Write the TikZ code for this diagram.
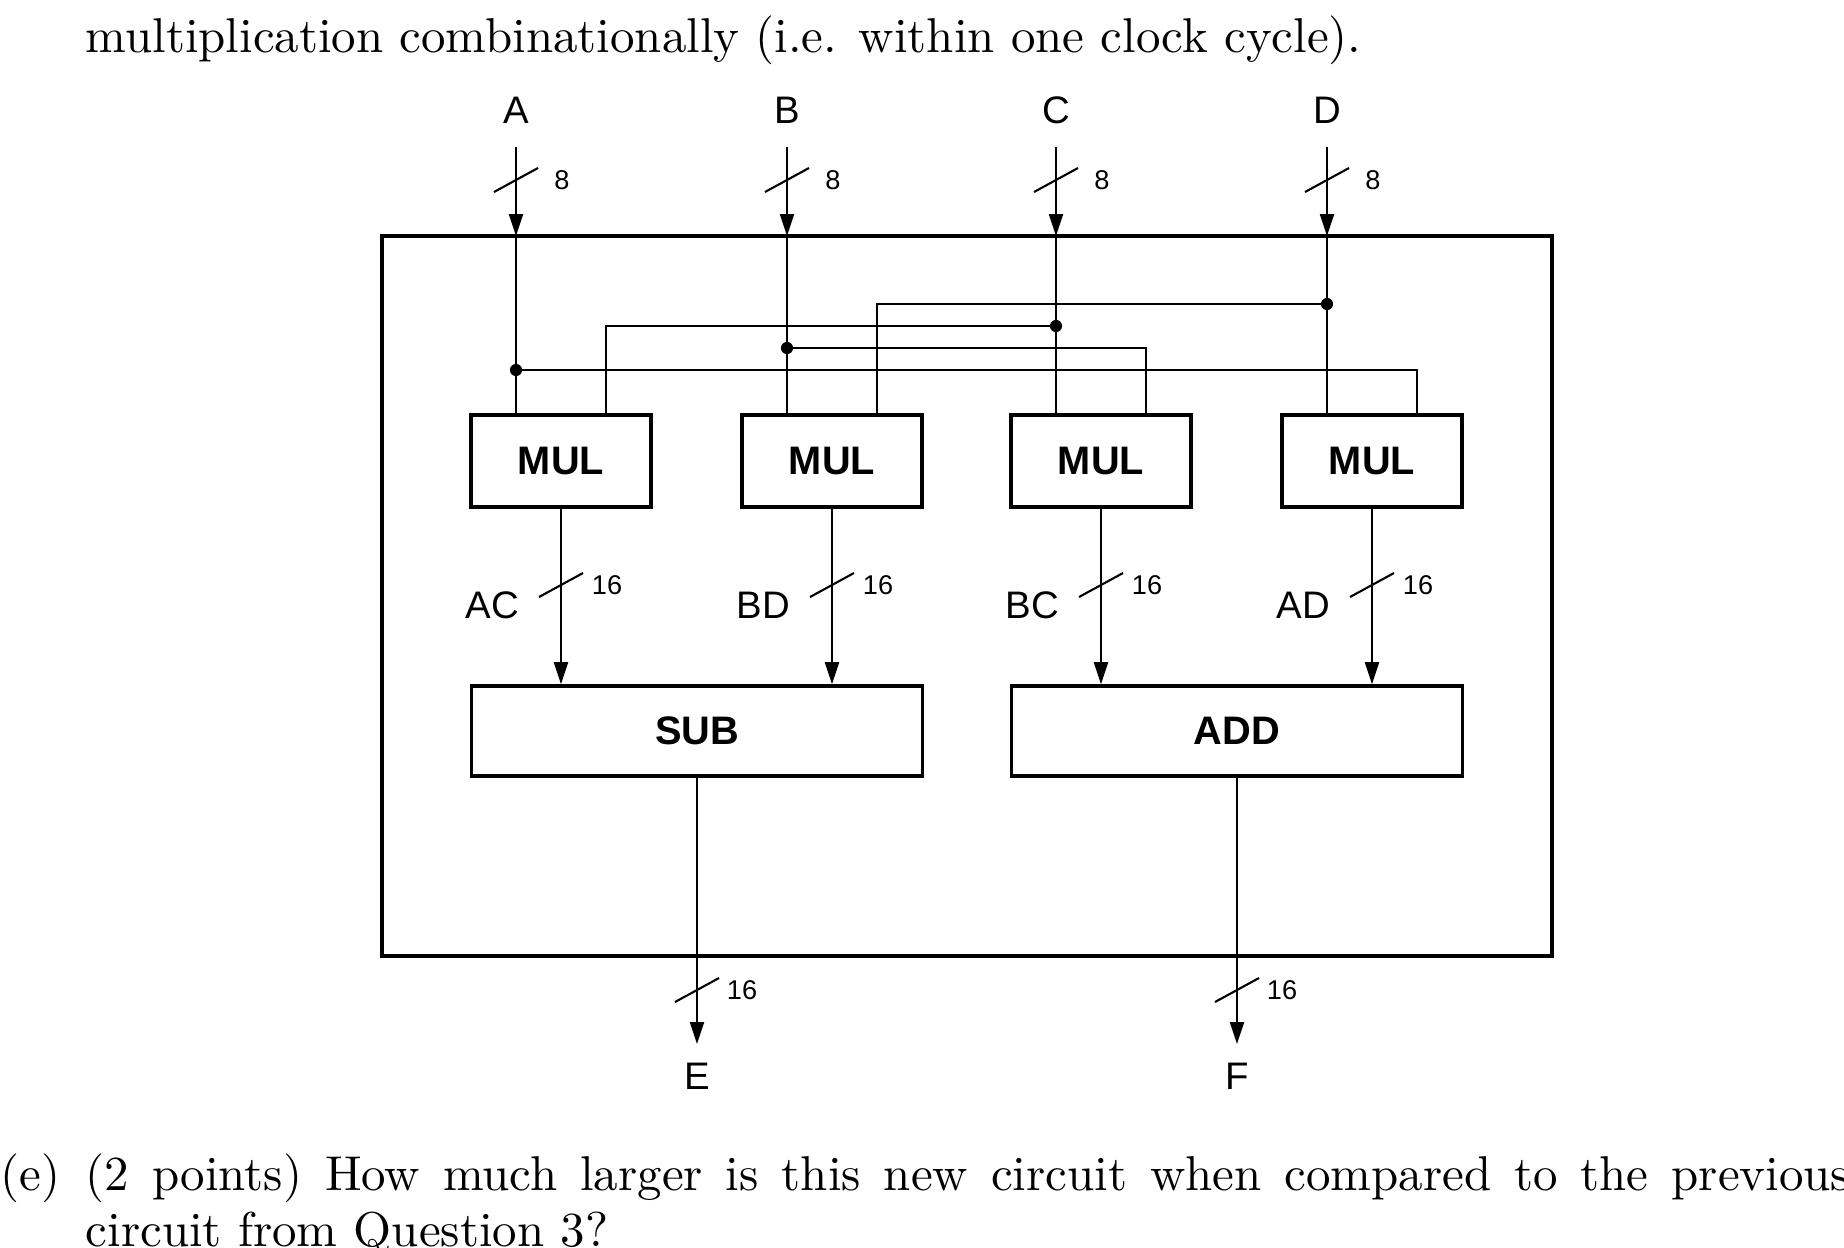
\documentclass[tikz,border=0pt]{standalone}
\usepackage{fontspec}
\newfontfamily\diagfont{Liberation Sans}
\usetikzlibrary{calc,arrows.meta}

\tikzset{
  wire/.style={line width=0.45pt},
  bus/.style={line width=0.45pt,-{Triangle[length=4.7pt,width=3pt]}},
  blk/.style={draw,line width=0.8pt,inner sep=0pt,
    font=\diagfont\bfseries\fontsize{8.5}{10}\selectfont},
  sig/.style={inner sep=0pt,font=\diagfont\fontsize{8.2}{10}\selectfont},
  wid/.style={inner sep=0pt,font=\diagfont\fontsize{5.8}{7}\selectfont},
  body/.style={inner sep=0pt,anchor=base west,font=\fontsize{10.45}{12.5}\selectfont}
}

\begin{document}
\begin{tikzpicture}[x=0.2137pt,y=-0.2137pt]
\useasboundingbox (0,0) rectangle (1844,1247);
% surrounding text
\node[body] (txt0) at (85,52) {multiplication combinationally (i.e. within one clock cycle).};
\node[body] (txt1) at (0,1190) {(e)};
\node[body] (txt2) at (85,1190) {\hbox to 377pt{(2 points) How much larger is this new circuit when compared to the previous}};
\node[body] (txt3) at (85,1246) {circuit from Question 3?};

% outer box
\draw[line width=0.8pt] (382,236) rectangle (1552,956);

% inputs and multipliers
\foreach \n/\x [count=\i] in {A/516,B/787,C/1056,D/1327}{
  \node[blk,minimum width=38.5pt,minimum height=19.7pt] (mul\i) at (\x+45,461) {MUL};
  \node[sig] (in\n) at (\x,110) {\n};
  \coordinate (s\n) at (\x,147);
  \coordinate (t\n) at (\x,236);
  \draw[bus] (s\n) -- (t\n);
  \draw[wire] (t\n) -- (t\n |- mul\i.north);
  \draw[wire] (\x-22,192) -- (\x+22,168);
  \node[wid] (w\n) at (\x+46,180) {8};
}

% cross wiring
\coordinate (jA) at (516,370);
\coordinate (jB) at (787,348);
\coordinate (jC) at (1056,326);
\coordinate (jD) at (1327,304);
\draw[wire] (jA) -| ([xshift=9.6pt]mul4.north);
\draw[wire] (jB) -| ([xshift=9.6pt]mul3.north);
\draw[wire] (jC) -| ([xshift=9.6pt]mul1.north);
\draw[wire] (jD) -| ([xshift=9.6pt]mul2.north);
\foreach \j in {jA,jB,jC,jD}
  \fill (\j) circle (1.3pt);

% sub / add
\node[blk,minimum width=96.4pt,minimum height=19.2pt] (sub) at (697,731) {SUB};
\node[blk,minimum width=96.4pt,minimum height=19.2pt] (add) at (1237,731) {ADD};

\foreach \i/\x/\lab/\blk in {1/561/AC/sub,2/832/BD/sub,3/1101/BC/add,4/1372/AD/add}{
  \draw[bus] (mul\i) -- (mul\i |- \blk.north);
  \draw[wire] (\x-22,597) -- (\x+22,573);
  \node[wid] (o\i) at (\x+46,585) {16};
  \node[sig,anchor=east] (l\i) at (\x-41,605) {\lab};
}

% outputs
\foreach \b/\n/\x in {sub/E/697,add/F/1237}{
  \node[sig] (out\n) at (\x,1076) {\n};
  \coordinate (e\n) at (\x,1044);
  \draw[bus] (\b) -- (e\n);
  \draw[wire] (\x-22,1002) -- (\x+22,978);
  \node[wid] (w\n) at (\x+45,990) {16};
}
\end{tikzpicture}
\end{document}
